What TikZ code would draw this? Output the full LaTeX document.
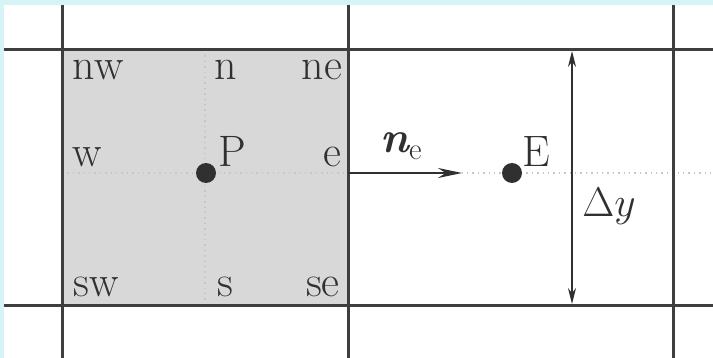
\documentclass[tikz,border=0pt]{standalone}
\usepackage{tikz}
\usetikzlibrary{arrows.meta, positioning}
\definecolor{framecyan}{RGB}{214, 244, 246}
\definecolor{gridcol}{RGB}{62, 62, 62}
\definecolor{cellshade}{RGB}{216, 216, 216}
\definecolor{ink}{RGB}{48, 48, 48}

\begin{document}
\begin{tikzpicture}[
    x=0.5pt, y=-0.5pt,
    >=Latex,
    % Line Styles
    gridline/.style={draw=gridcol, line width=1.5pt},
    centreline/.style={draw=gray!45, dotted, line width=0.7pt},
    % Label Styles
    lbl/.style={text=ink, font=\fontsize{22}{26}\selectfont, inner sep=0pt, anchor=base},
    nodedot/.style={circle, fill=ink, inner sep=0pt, minimum size=10pt},
    % Arrow Styles
    normalarrow/.style={-{Stealth[length=12pt, width=5pt]}, line width=1.2pt, draw=ink},
    sizearrow/.style={{Stealth[length=8pt, width=4pt]}-{Stealth[length=8pt, width=4pt]}, line width=0.9pt, draw=ink}
]
    \useasboundingbox (0, 0) rectangle (713, 358);
    \fill[white] (0, 0) rectangle (713, 358);

    % =========================================================================
    % 1. CONTROL VOLUME AROUND P
    % =========================================================================
    \fill[cellshade] (62, 50) rectangle (348, 305);
    \draw[centreline] (62, 173) -- (713, 173);
    \draw[centreline] (205, 50) -- (205, 305);

    % =========================================================================
    % 2. GRID LINES
    % =========================================================================
    \draw[gridline] (0, 50) -- (713, 50);
    \draw[gridline] (0, 305) -- (713, 305);
    \draw[gridline] (62, 0) -- (62, 358);
    \draw[gridline] (348, 0) -- (348, 358);
    \draw[gridline] (673, 0) -- (673, 358);

    % frame strips
    \fill[framecyan] (0, 0) rectangle (713, 5);
    \fill[framecyan] (0, 0) rectangle (4, 358);

    % =========================================================================
    % 3. NODES AND FACE LABELS
    % =========================================================================
    \node (dotP) [nodedot] at (206, 173) {};
    \node (dotE) [nodedot] at (512, 173) {};
    \node (labP) [lbl] at (232, 167) {P};
    \node (labE) [lbl] at (536, 167) {E};

    \node (labnw) [lbl] at (98, 80) {nw};
    \node (labn)  [lbl] at (226, 80) {n};
    \node (labne) [lbl] at (322, 80) {ne};
    \node (labw)  [lbl] at (87, 167) {w};
    \node (labe)  [lbl] at (332, 167) {e};
    \node (labsw) [lbl] at (96, 296) {sw};
    \node (labs)  [lbl] at (225, 296) {s};
    \node (labse) [lbl] at (323, 296) {se};

    % =========================================================================
    % CONNECTORS
    % =========================================================================
    \coordinate (eface) at (348, 173);
    \coordinate (netip) at (462, 173);
    \draw[normalarrow] (eface) -- (netip);
    \node (labnormal) [lbl, anchor=base west] at (380, 153) {{\bfseries\itshape n}\textsubscript{e}};

    \coordinate (dytop) at (572, 51);
    \coordinate (dybot) at (572, 304);
    \draw[sizearrow] (dybot) -- (dytop);
    \node (labdy) [lbl, anchor=base west, font=\fontsize{20}{24}\selectfont] at (582, 217) {$\Delta y$};

\end{tikzpicture}
\end{document}
